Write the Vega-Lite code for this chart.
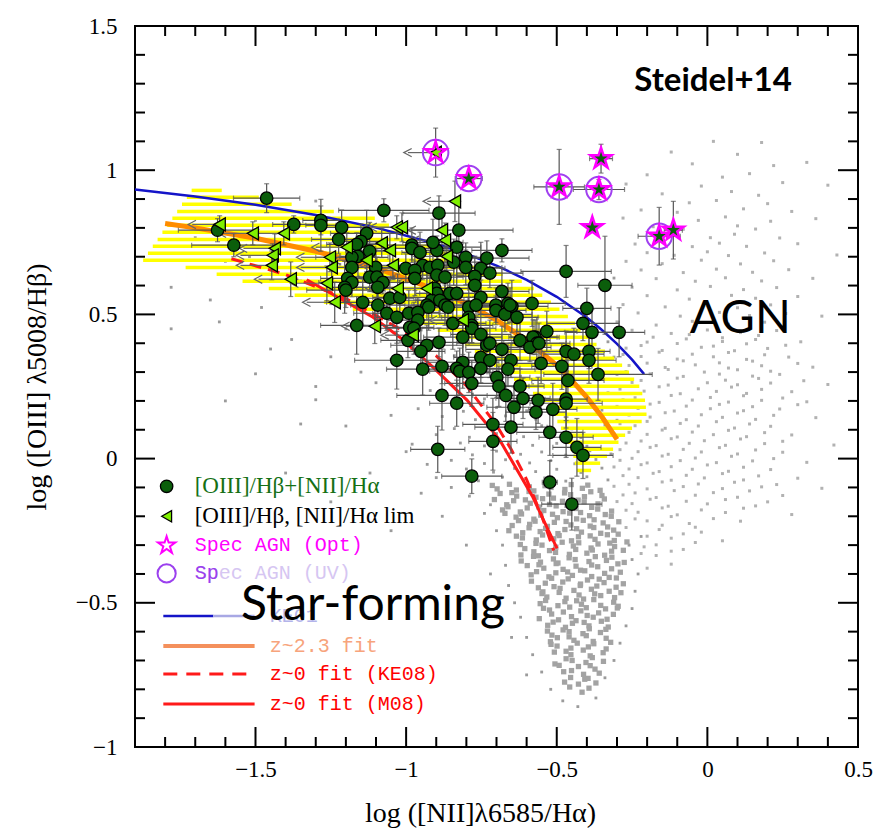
{
"$schema": "https://vega.github.io/schema/vega-lite/v6.json",
"width": 723, "height": 721,
"autosize": {"type": "none"},
"padding": {"left": 135, "top": 26, "right": 21, "bottom": 86},
"background": "#ffffff",
"config": {"view": {"stroke": "#000000", "strokeWidth": 2}},
"datasets": {
"core": [
{"x":-0.714,"y":-0.093},{"x":-0.698,"y":-0.105},{"x":-0.657,"y":-0.089},{"x":-0.634,"y":-0.109},{"x":-0.591,"y":-0.098},{"x":-0.576,"y":-0.112},{"x":-0.539,"y":-0.094},{"x":-0.519,"y":-0.1},{"x":-0.473,"y":-0.107},{"x":-0.452,"y":-0.09},{"x":-0.415,"y":-0.103},{"x":-0.397,"y":-0.092},{"x":-0.356,"y":-0.11},
{"x":-0.688,"y":-0.121},{"x":-0.649,"y":-0.118},{"x":-0.633,"y":-0.13},{"x":-0.592,"y":-0.114},{"x":-0.569,"y":-0.134},{"x":-0.526,"y":-0.123},{"x":-0.511,"y":-0.137},{"x":-0.474,"y":-0.119},{"x":-0.454,"y":-0.125},{"x":-0.408,"y":-0.132},{"x":-0.387,"y":-0.115},{"x":-0.35,"y":-0.128},
{"x":-0.707,"y":-0.142},{"x":-0.666,"y":-0.16},{"x":-0.643,"y":-0.146},{"x":-0.604,"y":-0.143},{"x":-0.588,"y":-0.155},{"x":-0.547,"y":-0.139},{"x":-0.524,"y":-0.159},{"x":-0.481,"y":-0.148},{"x":-0.466,"y":-0.162},{"x":-0.429,"y":-0.144},{"x":-0.409,"y":-0.15},{"x":-0.363,"y":-0.157},{"x":-0.342,"y":-0.14},
{"x":-0.68,"y":-0.178},{"x":-0.662,"y":-0.167},{"x":-0.621,"y":-0.185},{"x":-0.598,"y":-0.171},{"x":-0.559,"y":-0.168},{"x":-0.543,"y":-0.18},{"x":-0.502,"y":-0.164},{"x":-0.479,"y":-0.184},{"x":-0.436,"y":-0.173},{"x":-0.421,"y":-0.187},{"x":-0.384,"y":-0.169},{"x":-0.364,"y":-0.175},{"x":-0.318,"y":-0.182},
{"x":-0.672,"y":-0.19},{"x":-0.635,"y":-0.203},{"x":-0.617,"y":-0.192},{"x":-0.576,"y":-0.21},{"x":-0.553,"y":-0.196},{"x":-0.514,"y":-0.193},{"x":-0.498,"y":-0.205},{"x":-0.457,"y":-0.189},{"x":-0.434,"y":-0.209},{"x":-0.391,"y":-0.198},{"x":-0.376,"y":-0.212},{"x":-0.339,"y":-0.194},{"x":-0.319,"y":-0.2},
{"x":-0.648,"y":-0.232},{"x":-0.627,"y":-0.215},{"x":-0.59,"y":-0.228},{"x":-0.572,"y":-0.217},{"x":-0.531,"y":-0.235},{"x":-0.508,"y":-0.221},{"x":-0.469,"y":-0.218},{"x":-0.453,"y":-0.23},{"x":-0.412,"y":-0.214},{"x":-0.389,"y":-0.234},{"x":-0.346,"y":-0.223},{"x":-0.331,"y":-0.237},{"x":-0.294,"y":-0.219},
{"x":-0.659,"y":-0.25},{"x":-0.613,"y":-0.257},{"x":-0.592,"y":-0.24},{"x":-0.555,"y":-0.253},{"x":-0.537,"y":-0.242},{"x":-0.496,"y":-0.26},{"x":-0.473,"y":-0.246},{"x":-0.434,"y":-0.243},{"x":-0.418,"y":-0.255},{"x":-0.377,"y":-0.239},{"x":-0.354,"y":-0.259},{"x":-0.311,"y":-0.248},{"x":-0.296,"y":-0.262},
{"x":-0.634,"y":-0.269},{"x":-0.614,"y":-0.275},{"x":-0.568,"y":-0.282},{"x":-0.547,"y":-0.265},{"x":-0.51,"y":-0.278},{"x":-0.492,"y":-0.267},{"x":-0.451,"y":-0.285},{"x":-0.428,"y":-0.271},{"x":-0.389,"y":-0.268},{"x":-0.373,"y":-0.28},{"x":-0.332,"y":-0.264},{"x":-0.309,"y":-0.284},
{"x":-0.621,"y":-0.298},{"x":-0.606,"y":-0.312},{"x":-0.569,"y":-0.294},{"x":-0.549,"y":-0.3},{"x":-0.503,"y":-0.307},{"x":-0.482,"y":-0.29},{"x":-0.445,"y":-0.303},{"x":-0.427,"y":-0.292},{"x":-0.386,"y":-0.31},{"x":-0.363,"y":-0.296},{"x":-0.324,"y":-0.293},{"x":-0.308,"y":-0.305},{"x":-0.267,"y":-0.289},
{"x":-0.619,"y":-0.334},{"x":-0.576,"y":-0.323},{"x":-0.561,"y":-0.337},{"x":-0.524,"y":-0.319},{"x":-0.504,"y":-0.325},{"x":-0.458,"y":-0.332},{"x":-0.437,"y":-0.315},{"x":-0.4,"y":-0.328},{"x":-0.382,"y":-0.317},{"x":-0.341,"y":-0.335},{"x":-0.318,"y":-0.321},{"x":-0.279,"y":-0.318},
{"x":-0.618,"y":-0.355},{"x":-0.577,"y":-0.339},{"x":-0.554,"y":-0.359},{"x":-0.511,"y":-0.348},{"x":-0.496,"y":-0.362},{"x":-0.459,"y":-0.344},{"x":-0.439,"y":-0.35},{"x":-0.393,"y":-0.357},{"x":-0.372,"y":-0.34},{"x":-0.335,"y":-0.353},{"x":-0.317,"y":-0.342},{"x":-0.276,"y":-0.36},
{"x":-0.598,"y":-0.371},{"x":-0.559,"y":-0.368},{"x":-0.543,"y":-0.38},{"x":-0.502,"y":-0.364},{"x":-0.479,"y":-0.384},{"x":-0.436,"y":-0.373},{"x":-0.421,"y":-0.387},{"x":-0.384,"y":-0.369},{"x":-0.364,"y":-0.375},{"x":-0.318,"y":-0.382},{"x":-0.297,"y":-0.365},
{"x":-0.585,"y":-0.403},{"x":-0.567,"y":-0.392},{"x":-0.526,"y":-0.41},{"x":-0.503,"y":-0.396},{"x":-0.464,"y":-0.393},{"x":-0.448,"y":-0.405},{"x":-0.407,"y":-0.389},{"x":-0.384,"y":-0.409},{"x":-0.341,"y":-0.398},{"x":-0.326,"y":-0.412},{"x":-0.289,"y":-0.394},
{"x":-0.584,"y":-0.425},{"x":-0.538,"y":-0.432},{"x":-0.517,"y":-0.415},{"x":-0.48,"y":-0.428},{"x":-0.462,"y":-0.417},{"x":-0.421,"y":-0.435},{"x":-0.398,"y":-0.421},{"x":-0.359,"y":-0.418},{"x":-0.343,"y":-0.43},{"x":-0.302,"y":-0.414},{"x":-0.279,"y":-0.434},
{"x":-0.561,"y":-0.448},{"x":-0.546,"y":-0.462},{"x":-0.509,"y":-0.444},{"x":-0.489,"y":-0.45},{"x":-0.443,"y":-0.457},{"x":-0.422,"y":-0.44},{"x":-0.385,"y":-0.453},{"x":-0.367,"y":-0.442},{"x":-0.326,"y":-0.46},{"x":-0.303,"y":-0.446},
{"x":-0.549,"y":-0.468},{"x":-0.533,"y":-0.48},{"x":-0.492,"y":-0.464},{"x":-0.469,"y":-0.484},{"x":-0.426,"y":-0.473},{"x":-0.411,"y":-0.487},{"x":-0.374,"y":-0.469},{"x":-0.354,"y":-0.475},{"x":-0.308,"y":-0.482},{"x":-0.287,"y":-0.465},
{"x":-0.555,"y":-0.503},{"x":-0.537,"y":-0.492},{"x":-0.496,"y":-0.51},{"x":-0.473,"y":-0.496},{"x":-0.434,"y":-0.493},{"x":-0.418,"y":-0.505},{"x":-0.377,"y":-0.489},{"x":-0.354,"y":-0.509},{"x":-0.311,"y":-0.498},{"x":-0.296,"y":-0.512},
{"x":-0.544,"y":-0.519},{"x":-0.524,"y":-0.525},{"x":-0.478,"y":-0.532},{"x":-0.457,"y":-0.515},{"x":-0.42,"y":-0.528},{"x":-0.402,"y":-0.517},{"x":-0.361,"y":-0.535},{"x":-0.338,"y":-0.521},{"x":-0.299,"y":-0.518},
{"x":-0.558,"y":-0.555},{"x":-0.517,"y":-0.539},{"x":-0.494,"y":-0.559},{"x":-0.451,"y":-0.548},{"x":-0.436,"y":-0.562},{"x":-0.399,"y":-0.544},{"x":-0.379,"y":-0.55},{"x":-0.333,"y":-0.557},{"x":-0.312,"y":-0.54},
{"x":-0.53,"y":-0.578},{"x":-0.512,"y":-0.567},{"x":-0.471,"y":-0.585},{"x":-0.448,"y":-0.571},{"x":-0.409,"y":-0.568},{"x":-0.393,"y":-0.58},{"x":-0.352,"y":-0.564},{"x":-0.329,"y":-0.584},
{"x":-0.531,"y":-0.598},{"x":-0.516,"y":-0.612},{"x":-0.479,"y":-0.594},{"x":-0.459,"y":-0.6},{"x":-0.413,"y":-0.607},{"x":-0.392,"y":-0.59},{"x":-0.355,"y":-0.603},{"x":-0.337,"y":-0.592},
{"x":-0.521,"y":-0.635},{"x":-0.498,"y":-0.621},{"x":-0.459,"y":-0.618},{"x":-0.443,"y":-0.63},{"x":-0.402,"y":-0.614},{"x":-0.379,"y":-0.634},{"x":-0.336,"y":-0.623},{"x":-0.321,"y":-0.637},
{"x":-0.519,"y":-0.644},{"x":-0.499,"y":-0.65},{"x":-0.453,"y":-0.657},{"x":-0.432,"y":-0.64},{"x":-0.395,"y":-0.653},{"x":-0.377,"y":-0.642},{"x":-0.336,"y":-0.66},
{"x":-0.508,"y":-0.671},{"x":-0.469,"y":-0.668},{"x":-0.453,"y":-0.68},{"x":-0.412,"y":-0.664},{"x":-0.389,"y":-0.684},{"x":-0.346,"y":-0.673},
{"x":-0.506,"y":-0.712},{"x":-0.469,"y":-0.694},{"x":-0.449,"y":-0.7},{"x":-0.403,"y":-0.707},{"x":-0.382,"y":-0.69},{"x":-0.345,"y":-0.703},
{"x":-0.492,"y":-0.717},{"x":-0.451,"y":-0.735},{"x":-0.428,"y":-0.721},{"x":-0.389,"y":-0.718},{"x":-0.373,"y":-0.73},
{"x":-0.477,"y":-0.739},{"x":-0.454,"y":-0.759},{"x":-0.411,"y":-0.748},{"x":-0.396,"y":-0.762},{"x":-0.359,"y":-0.744},
{"x":-0.474,"y":-0.775},{"x":-0.428,"y":-0.782},{"x":-0.407,"y":-0.765},{"x":-0.37,"y":-0.778},
{"x":-0.457,"y":-0.792},{"x":-0.416,"y":-0.81},{"x":-0.393,"y":-0.796}
],
"sdss": [
{"x":-1.3,"y":0.893},{"x":-1.5,"y":0.826},{"x":-1.15,"y":0.804},{"x":-1.7,"y":0.766},{"x":-1.4,"y":0.745},{"x":-0.95,"y":0.733},{"x":-1.6,"y":0.684},{"x":-1.22,"y":0.673},{"x":-1.05,"y":0.655},{"x":-1.35,"y":0.616},{"x":-0.31,"y":0.626},{"x":-1.78,"y":0.594},{"x":-1.12,"y":0.583},{"x":-0.98,"y":0.565},{"x":-1.48,"y":0.524},{"x":-1.25,"y":0.537},{"x":-1.05,"y":0.505},{"x":-0.87,"y":0.493},{"x":-1.62,"y":0.474},{"x":-1.18,"y":0.463},{"x":-0.95,"y":0.446},{"x":-0.8,"y":0.434},{"x":-1.38,"y":0.413},{"x":-1.02,"y":0.404},{"x":-0.88,"y":0.418},{"x":-0.33,"y":0.405},{"x":-0.92,"y":0.384},{"x":-0.76,"y":0.373},{"x":-1.25,"y":0.353},{"x":-1.05,"y":0.344},{"x":-0.84,"y":0.357},{"x":-0.71,"y":0.346},{"x":-0.31,"y":0.352},{"x":-0.95,"y":0.324},{"x":-0.79,"y":0.313},{"x":-0.66,"y":0.327},{"x":-1.5,"y":0.294},{"x":-0.88,"y":0.283},{"x":-0.73,"y":0.297},{"x":-0.62,"y":0.286},{"x":-0.3,"y":0.292},{"x":-1.1,"y":0.263},{"x":-0.83,"y":0.254},{"x":-0.7,"y":0.268},{"x":-0.58,"y":0.257},{"x":-0.92,"y":0.236},{"x":-0.78,"y":0.224},{"x":-0.66,"y":0.233},{"x":-0.55,"y":0.222},{"x":-0.33,"y":0.228},{"x":-1.3,"y":0.204},{"x":-0.85,"y":0.196},{"x":-0.74,"y":0.207},{"x":-0.63,"y":0.193},{"x":-0.52,"y":0.203},{"x":-0.96,"y":0.173},{"x":-0.81,"y":0.164},{"x":-0.7,"y":0.177},{"x":-0.6,"y":0.166},{"x":-0.49,"y":0.175},{"x":-0.35,"y":0.168},{"x":-0.88,"y":0.146},{"x":-0.77,"y":0.135},{"x":-0.67,"y":0.148},{"x":-0.57,"y":0.137},{"x":-0.47,"y":0.144},{"x":-0.3,"y":0.133},{"x":-1.2,"y":0.113},{"x":-0.84,"y":0.104},{"x":-0.73,"y":0.117},{"x":-0.64,"y":0.106},{"x":-0.55,"y":0.114},{"x":-0.45,"y":0.103},{"x":-0.34,"y":0.116},{"x":-0.9,"y":0.083},{"x":-0.79,"y":0.074},{"x":-0.7,"y":0.087},{"x":-0.61,"y":0.076},{"x":-0.52,"y":0.084},{"x":-0.42,"y":0.073},{"x":-0.31,"y":0.086},{"x":-0.82,"y":0.054},{"x":-0.74,"y":0.044},{"x":-0.66,"y":0.057},{"x":-0.58,"y":0.046},{"x":-0.5,"y":0.053},{"x":-0.4,"y":0.043},{"x":-0.36,"y":0.056},{"x":-1.0,"y":0.024},{"x":-0.78,"y":0.013},{"x":-0.7,"y":0.026},{"x":-0.62,"y":0.015},{"x":-0.55,"y":0.023},{"x":-0.47,"y":0.012},{"x":-0.39,"y":0.027},{"x":-0.32,"y":0.016},{"x":-0.85,"y":-0.006},{"x":-0.74,"y":-0.017},{"x":-0.67,"y":-0.004},{"x":-0.59,"y":-0.015},{"x":-0.52,"y":-0.007},{"x":-0.44,"y":-0.018},{"x":-0.37,"y":-0.003},{"x":-0.8,"y":-0.036},{"x":-0.71,"y":-0.047},{"x":-0.64,"y":-0.034},{"x":-0.57,"y":-0.045},{"x":-0.5,"y":-0.037},{"x":-0.42,"y":-0.048},{"x":-0.35,"y":-0.033},{"x":-0.9,"y":-0.066},{"x":-0.76,"y":-0.077},{"x":-0.68,"y":-0.064},{"x":-0.61,"y":-0.075},{"x":-0.54,"y":-0.067},{"x":-0.47,"y":-0.078},{"x":-0.4,"y":-0.063},{"x":-0.33,"y":-0.074},
{"x":-0.79,"y":-0.13},{"x":-0.74,"y":-0.19},{"x":-0.72,"y":-0.16},{"x":-0.7,"y":-0.25},{"x":-0.68,"y":-0.3},{"x":-0.67,"y":-0.37},{"x":-0.66,"y":-0.44},{"x":-0.64,"y":-0.5},{"x":-0.62,"y":-0.55},{"x":-0.6,"y":-0.62},{"x":-0.58,"y":-0.68},{"x":-0.55,"y":-0.74},{"x":-0.52,"y":-0.8},{"x":-0.48,"y":-0.84},{"x":-0.43,"y":-0.86},{"x":-0.37,"y":-0.83},{"x":-0.34,"y":-0.76},{"x":-0.31,"y":-0.7},{"x":-0.29,"y":-0.64},{"x":-0.27,"y":-0.58},{"x":-0.25,"y":-0.52},{"x":-0.24,"y":-0.46},{"x":-0.23,"y":-0.4},{"x":-0.25,"y":-0.35},{"x":-0.26,"y":-0.3},{"x":-0.22,"y":-0.27},{"x":-0.95,"y":-0.12},{"x":-0.88,"y":-0.2},{"x":-0.8,"y":-0.3},{"x":-0.72,"y":-0.4},{"x":-0.7,"y":-0.52},{"x":-0.65,"y":-0.62},{"x":-0.6,"y":-0.75},
{"x":-1.65,"y":0.55},{"x":-1.45,"y":0.38},{"x":-1.3,"y":0.25},{"x":-1.2,"y":0.45},{"x":-1.05,"y":0.15},{"x":-0.98,"y":0.05},{"x":-1.35,"y":0.12},{"x":-1.12,"y":-0.05},{"x":-1.52,"y":0.7},{"x":-1.78,"y":0.45},{"x":-1.4,"y":-0.05},{"x":-1.6,"y":0.2},{"x":-1.25,"y":-0.15},{"x":-1.05,"y":-0.25},{"x":-0.93,"y":-0.02},{"x":-1.15,"y":0.3},{"x":-0.85,"y":-0.1}
],
"agn": [
{"x":0.02,"y":1.1},{"x":0.18,"y":1.096},{"x":-0.12,"y":1.063},{"x":0.1,"y":1.055},{"x":-0.05,"y":1.022},{"x":0.22,"y":1.016},{"x":0.33,"y":1.027},{"x":-0.2,"y":0.984},{"x":0.05,"y":0.976},{"x":0.14,"y":0.988},{"x":-0.27,"y":0.952},{"x":-0.02,"y":0.945},{"x":0.25,"y":0.957},{"x":0.4,"y":0.948},{"x":-0.15,"y":0.918},{"x":0.08,"y":0.926},{"x":0.17,"y":0.913},{"x":-0.06,"y":0.887},{"x":0.03,"y":0.895},{"x":0.2,"y":0.884},{"x":-0.22,"y":0.862},{"x":-0.1,"y":0.854},{"x":0.12,"y":0.866},{"x":0.28,"y":0.857},{"x":-0.28,"y":0.834},{"x":-0.03,"y":0.826},{"x":0.06,"y":0.838},{"x":0.21,"y":0.823},{"x":0.36,"y":0.832},{"x":-0.18,"y":0.804},{"x":-0.08,"y":0.795},{"x":0.1,"y":0.807},{"x":0.16,"y":0.796},{"x":-0.13,"y":0.774},{"x":0.01,"y":0.766},{"x":0.09,"y":0.778},{"x":0.24,"y":0.765},{"x":-0.24,"y":0.744},{"x":-0.05,"y":0.735},{"x":0.04,"y":0.747},{"x":0.13,"y":0.736},{"x":0.3,"y":0.745},{"x":-0.2,"y":0.714},{"x":-0.11,"y":0.705},{"x":0.0,"y":0.717},{"x":0.07,"y":0.704},{"x":0.19,"y":0.713},{"x":0.43,"y":0.706},{"x":-0.27,"y":0.684},{"x":-0.15,"y":0.676},{"x":-0.02,"y":0.688},{"x":0.11,"y":0.675},{"x":0.22,"y":0.686},{"x":-0.22,"y":0.654},{"x":-0.08,"y":0.645},{"x":0.03,"y":0.657},{"x":0.15,"y":0.646},{"x":0.27,"y":0.655},{"x":-0.17,"y":0.624},{"x":-0.04,"y":0.615},{"x":0.06,"y":0.627},{"x":0.18,"y":0.616},{"x":0.35,"y":0.625},
{"x":-0.25,"y":0.594},{"x":-0.1,"y":0.585},{"x":0.01,"y":0.597},{"x":0.12,"y":0.586},{"x":0.23,"y":0.593},
{"x":-0.2,"y":0.565},{"x":-0.06,"y":0.553},{"x":0.08,"y":0.566},{"x":0.16,"y":0.556},{"x":0.3,"y":0.562},
{"x":-0.28,"y":0.534},{"x":-0.14,"y":0.526},{"x":-0.01,"y":0.537},{"x":0.1,"y":0.523},{"x":0.21,"y":0.533},
{"x":-0.23,"y":0.505},{"x":-0.09,"y":0.494},{"x":0.04,"y":0.507},{"x":0.14,"y":0.496},{"x":0.26,"y":0.503},{"x":0.38,"y":0.494},
{"x":-0.3,"y":0.474},{"x":-0.17,"y":0.463},{"x":-0.05,"y":0.476},{"x":0.07,"y":0.466},{"x":0.19,"y":0.473},
{"x":-0.25,"y":0.445},{"x":-0.12,"y":0.434},{"x":0.0,"y":0.446},{"x":0.11,"y":0.437},{"x":0.23,"y":0.444},
{"x":-0.29,"y":0.428},{"x":-0.18,"y":0.421},{"x":-0.06,"y":0.43},{"x":0.05,"y":0.419},{"x":0.17,"y":0.427},
{"x":-0.2,"y":0.404},{"x":-0.07,"y":0.415},{"x":0.05,"y":0.406},{"x":0.16,"y":0.413},{"x":0.31,"y":0.405},
{"x":-0.22,"y":0.392},{"x":-0.1,"y":0.399},{"x":0.02,"y":0.39},{"x":0.13,"y":0.398},{"x":0.26,"y":0.393},
{"x":-0.27,"y":0.383},{"x":-0.15,"y":0.375},{"x":-0.02,"y":0.386},{"x":0.09,"y":0.374},{"x":0.2,"y":0.382},
{"x":-0.28,"y":0.361},{"x":-0.16,"y":0.369},{"x":-0.05,"y":0.362},{"x":0.07,"y":0.368},{"x":0.19,"y":0.36},
{"x":-0.22,"y":0.354},{"x":-0.1,"y":0.345},{"x":0.02,"y":0.353},{"x":0.13,"y":0.344},{"x":0.27,"y":0.352},
{"x":-0.2,"y":0.331},{"x":-0.08,"y":0.339},{"x":0.04,"y":0.332},{"x":0.15,"y":0.338},{"x":0.3,"y":0.33},
{"x":-0.26,"y":0.323},{"x":-0.14,"y":0.316},{"x":-0.04,"y":0.325},{"x":0.07,"y":0.314},{"x":0.18,"y":0.322},{"x":0.35,"y":0.317},
{"x":-0.27,"y":0.302},{"x":-0.13,"y":0.309},{"x":-0.01,"y":0.3},{"x":0.1,"y":0.308},{"x":0.21,"y":0.303},
{"x":-0.19,"y":0.294},{"x":-0.08,"y":0.285},{"x":0.04,"y":0.293},{"x":0.15,"y":0.286},{"x":0.24,"y":0.292},
{"x":-0.22,"y":0.271},{"x":-0.1,"y":0.279},{"x":0.06,"y":0.272},{"x":0.17,"y":0.278},{"x":0.32,"y":0.27},
{"x":-0.25,"y":0.264},{"x":-0.13,"y":0.255},{"x":0.0,"y":0.263},{"x":0.1,"y":0.256},{"x":0.21,"y":0.262},{"x":0.4,"y":0.257},
{"x":-0.29,"y":0.241},{"x":-0.16,"y":0.249},{"x":-0.03,"y":0.242},{"x":0.08,"y":0.248},{"x":0.18,"y":0.24},
{"x":-0.21,"y":0.234},{"x":-0.09,"y":0.225},{"x":0.03,"y":0.233},{"x":0.13,"y":0.226},{"x":0.28,"y":0.232},
{"x":-0.24,"y":0.211},{"x":-0.12,"y":0.219},{"x":0.01,"y":0.212},{"x":0.12,"y":0.218},{"x":0.25,"y":0.21},
{"x":-0.28,"y":0.204},{"x":-0.16,"y":0.195},{"x":-0.05,"y":0.203},{"x":0.07,"y":0.196},{"x":0.18,"y":0.202},{"x":0.33,"y":0.197},
{"x":-0.3,"y":0.181},{"x":-0.19,"y":0.189},{"x":-0.07,"y":0.182},{"x":0.04,"y":0.188},{"x":0.15,"y":0.18},{"x":0.3,"y":0.187},
{"x":-0.23,"y":0.174},{"x":-0.11,"y":0.165},{"x":0.01,"y":0.173},{"x":0.12,"y":0.166},{"x":0.24,"y":0.172},
{"x":-0.26,"y":0.151},{"x":-0.14,"y":0.159},{"x":-0.02,"y":0.152},{"x":0.1,"y":0.158},{"x":0.22,"y":0.15},
{"x":-0.19,"y":0.144},{"x":-0.07,"y":0.135},{"x":0.05,"y":0.143},{"x":0.16,"y":0.136},{"x":0.36,"y":0.142},
{"x":-0.29,"y":0.121},{"x":-0.2,"y":0.129},{"x":-0.09,"y":0.122},{"x":0.03,"y":0.128},{"x":0.14,"y":0.12},
{"x":-0.24,"y":0.114},{"x":-0.14,"y":0.105},{"x":-0.03,"y":0.113},{"x":0.09,"y":0.106},{"x":0.21,"y":0.112},
{"x":-0.26,"y":0.091},{"x":-0.15,"y":0.099},{"x":-0.05,"y":0.092},{"x":0.07,"y":0.098},{"x":0.19,"y":0.09},
{"x":-0.2,"y":0.084},{"x":-0.1,"y":0.075},{"x":0.02,"y":0.083},{"x":0.13,"y":0.076},{"x":0.28,"y":0.082},
{"x":-0.22,"y":0.061},{"x":-0.12,"y":0.069},{"x":-0.01,"y":0.062},{"x":0.11,"y":0.068},{"x":0.25,"y":0.06},
{"x":-0.27,"y":0.054},{"x":-0.17,"y":0.045},{"x":-0.06,"y":0.053},{"x":0.06,"y":0.046},{"x":0.19,"y":0.052},{"x":0.42,"y":0.047},
{"x":-0.29,"y":0.031},{"x":-0.19,"y":0.039},{"x":-0.08,"y":0.032},{"x":0.04,"y":0.038},{"x":0.16,"y":0.03},
{"x":-0.23,"y":0.024},{"x":-0.13,"y":0.015},{"x":-0.02,"y":0.023},{"x":0.1,"y":0.016},{"x":0.25,"y":0.022},
{"x":-0.25,"y":0.001},{"x":-0.15,"y":0.009},{"x":-0.04,"y":0.002},{"x":0.08,"y":0.008},{"x":0.22,"y":0.0},
{"x":-0.29,"y":-0.006},{"x":-0.2,"y":-0.015},{"x":-0.09,"y":-0.007},{"x":0.03,"y":-0.014},{"x":0.15,"y":-0.008},{"x":0.33,"y":-0.013},
{"x":-0.31,"y":-0.029},{"x":-0.22,"y":-0.021},{"x":-0.12,"y":-0.028},{"x":0.0,"y":-0.022},{"x":0.12,"y":-0.03},
{"x":-0.26,"y":-0.036},{"x":-0.16,"y":-0.045},{"x":-0.05,"y":-0.037},{"x":0.07,"y":-0.044},{"x":0.21,"y":-0.038},
{"x":-0.28,"y":-0.059},{"x":-0.18,"y":-0.051},{"x":-0.07,"y":-0.058},{"x":0.05,"y":-0.052},{"x":0.17,"y":-0.06},
{"x":-0.23,"y":-0.066},{"x":-0.12,"y":-0.075},{"x":-0.01,"y":-0.067},{"x":0.12,"y":-0.074},{"x":0.3,"y":-0.068},
{"x":-0.26,"y":-0.089},{"x":-0.15,"y":-0.081},{"x":-0.03,"y":-0.088},{"x":0.09,"y":-0.082},{"x":0.23,"y":-0.09},
{"x":-0.31,"y":-0.096},{"x":-0.2,"y":-0.105},{"x":-0.08,"y":-0.097},{"x":0.05,"y":-0.104},{"x":0.18,"y":-0.098},{"x":0.38,"y":-0.103},
{"x":-0.24,"y":-0.119},{"x":-0.11,"y":-0.111},{"x":0.02,"y":-0.118},{"x":0.14,"y":-0.112},
{"x":-0.28,"y":-0.126},{"x":-0.17,"y":-0.135},{"x":-0.04,"y":-0.127},{"x":0.1,"y":-0.134},{"x":0.25,"y":-0.128},
{"x":-0.3,"y":-0.149},{"x":-0.19,"y":-0.141},{"x":-0.07,"y":-0.148},{"x":0.06,"y":-0.142},{"x":0.2,"y":-0.15},
{"x":-0.25,"y":-0.156},{"x":-0.13,"y":-0.165},{"x":0.0,"y":-0.157},{"x":0.16,"y":-0.164},
{"x":-0.27,"y":-0.179},{"x":-0.15,"y":-0.171},{"x":-0.02,"y":-0.178},{"x":0.12,"y":-0.172},
{"x":-0.23,"y":-0.186},{"x":-0.1,"y":-0.195},{"x":0.06,"y":-0.187},{"x":0.28,"y":-0.194},
{"x":-0.24,"y":-0.209},{"x":-0.12,"y":-0.201},{"x":0.02,"y":-0.208},
{"x":-0.2,"y":-0.216},{"x":-0.06,"y":-0.225},{"x":0.11,"y":-0.217},
{"x":-0.27,"y":-0.239},{"x":-0.15,"y":-0.231},{"x":-0.04,"y":-0.238},
{"x":-0.16,"y":-0.246},{"x":-0.02,"y":-0.255},{"x":-0.2,"y":-0.269},{"x":-0.08,"y":-0.261},{"x":-0.12,"y":-0.276},{"x":0.05,"y":-0.285},{"x":-0.17,"y":-0.299},{"x":-0.04,"y":-0.291},{"x":-0.21,"y":-0.306},{"x":-0.08,"y":-0.315},{"x":-0.22,"y":-0.329},{"x":-0.12,"y":-0.321},{"x":-0.17,"y":-0.336},{"x":-0.12,"y":-0.366},{"x":-0.2,"y":-0.38}
],
"yellow": [
{"y":0.93,"x":-1.712,"x2":-1.612},{"y":0.906,"x":-1.728,"x2":-1.489},{"y":0.882,"x":-1.744,"x2":-1.38},{"y":0.857,"x":-1.76,"x2":-1.24},{"y":0.833,"x":-1.776,"x2":-1.104},{"y":0.809,"x":-1.793,"x2":-1.057},{"y":0.785,"x":-1.809,"x2":-1.008},{"y":0.76,"x":-1.825,"x2":-0.961},{"y":0.736,"x":-1.841,"x2":-0.905},{"y":0.712,"x":-1.857,"x2":-0.847},{"y":0.688,"x":-1.873,"x2":-0.788},{"y":0.663,"x":-1.732,"x2":-0.735},{"y":0.639,"x":-1.629,"x2":-0.679},{"y":0.615,"x":-1.543,"x2":-0.616},{"y":0.59,"x":-1.456,"x2":-0.576},{"y":0.566,"x":-1.37,"x2":-0.548},{"y":0.542,"x":-1.273,"x2":-0.519},{"y":0.518,"x":-1.177,"x2":-0.491},{"y":0.493,"x":-1.081,"x2":-0.463},{"y":0.469,"x":-0.988,"x2":-0.439},{"y":0.445,"x":-0.895,"x2":-0.421},{"y":0.421,"x":-0.838,"x2":-0.396},{"y":0.396,"x":-0.805,"x2":-0.368},{"y":0.372,"x":-0.772,"x2":-0.34},{"y":0.348,"x":-0.742,"x2":-0.309},{"y":0.324,"x":-0.709,"x2":-0.283},{"y":0.299,"x":-0.675,"x2":-0.26},{"y":0.275,"x":-0.642,"x2":-0.243},{"y":0.251,"x":-0.612,"x2":-0.226},{"y":0.226,"x":-0.579,"x2":-0.216},{"y":0.202,"x":-0.546,"x2":-0.207},{"y":0.178,"x":-0.529,"x2":-0.204},{"y":0.154,"x":-0.513,"x2":-0.202},{"y":0.129,"x":-0.498,"x2":-0.218},{"y":0.105,"x":-0.486,"x2":-0.25},{"y":0.081,"x":-0.474,"x2":-0.273},{"y":0.057,"x":-0.463,"x2":-0.295},{"y":0.032,"x":-0.454,"x2":-0.313},{"y":0.008,"x":-0.445,"x2":-0.333},{"y":-0.016,"x":-0.44,"x2":-0.356},{"y":-0.041,"x":-0.433,"x2":-0.386}
],
"ke01": [{"x":-1.9,"y":0.933},{"x":-1.7,"y":0.909},{"x":-1.5,"y":0.88},{"x":-1.3,"y":0.845},{"x":-1.1,"y":0.801},{"x":-0.9,"y":0.745},{"x":-0.8,"y":0.71},{"x":-0.7,"y":0.669},{"x":-0.6,"y":0.62},{"x":-0.5,"y":0.561},{"x":-0.4,"y":0.489},{"x":-0.35,"y":0.446},{"x":-0.3,"y":0.398},{"x":-0.25,"y":0.343},{"x":-0.21,"y":0.293}],
"z23": [{"x":-1.8,"y":0.815},{"x":-1.7,"y":0.8},{"x":-1.5,"y":0.764},{"x":-1.3,"y":0.719},{"x":-1.1,"y":0.661},{"x":-0.9,"y":0.585},{"x":-0.8,"y":0.537},{"x":-0.7,"y":0.48},{"x":-0.6,"y":0.41},{"x":-0.5,"y":0.323},{"x":-0.45,"y":0.271},{"x":-0.4,"y":0.212},{"x":-0.35,"y":0.145},{"x":-0.3,"y":0.067}],
"ke08": [{"x":-1.58,"y":0.693},{"x":-1.4,"y":0.638},{"x":-1.2,"y":0.555},{"x":-1.0,"y":0.437},{"x":-0.9,"y":0.356},{"x":-0.8,"y":0.253},{"x":-0.7,"y":0.116},{"x":-0.65,"y":0.03},{"x":-0.6,"y":-0.073},{"x":-0.55,"y":-0.198},{"x":-0.51,"y":-0.319}],
"m08": [{"x":-1.33,"y":0.62},{"x":-1.309,"y":0.608},{"x":-1.11,"y":0.49},{"x":-1.021,"y":0.421},{"x":-0.911,"y":0.317},{"x":-0.798,"y":0.203},{"x":-0.689,"y":0.064},{"x":-0.579,"y":-0.134},{"x":-0.533,"y":-0.238},{"x":-0.499,"y":-0.311}],
"circ": [
{"x":-1.463,"y":0.903,"ex":0.11,"ey":0.05},{"x":-1.626,"y":0.792,"ex":0.13,"ey":0.04},{"x":-1.572,"y":0.74,"ex":0.14,"ey":0.04},{"x":-1.373,"y":0.812,"ex":0.07,"ey":0.03},{"x":-1.283,"y":0.826,"ex":0.06,"ey":0.05},{"x":-1.283,"y":0.809,"ex":0.05,"ey":0.09},{"x":-1.214,"y":0.802,"ex":0.08,"ey":0.06},{"x":-1.224,"y":0.76,"ex":0.09,"ey":0.05},{"x":-1.131,"y":0.781,"ex":0.12,"ey":0.08},{"x":-1.074,"y":0.861,"ex":0.15,"ey":0.04},
{"x":-1.15,"y":0.753,"ex":0.07,"ey":0.06},{"x":-1.164,"y":0.743,"ex":0.1,"ey":0.04},{"x":-1.16,"y":0.701,"ex":0.06,"ey":0.07},{"x":-1.18,"y":0.698,"ex":0.12,"ey":0.05},{"x":-1.121,"y":0.719,"ex":0.08,"ey":0.1},{"x":-1.101,"y":0.663,"ex":0.1,"ey":0.06},{"x":-1.18,"y":0.663,"ex":0.07,"ey":0.04},{"x":-1.194,"y":0.625,"ex":0.09,"ey":0.08},{"x":-1.18,"y":0.611,"ex":0.11,"ey":0.05},{"x":-1.204,"y":0.594,"ex":0.06,"ey":0.09},
{"x":-1.2,"y":0.584,"ex":0.13,"ey":0.06},{"x":-1.121,"y":0.629,"ex":0.08,"ey":0.05},{"x":-1.097,"y":0.629,"ex":0.06,"ey":0.07},{"x":-1.077,"y":0.611,"ex":0.1,"ey":0.04},{"x":-1.094,"y":0.594,"ex":0.07,"ey":0.06},{"x":-1.144,"y":0.542,"ex":0.12,"ey":0.08},{"x":-1.094,"y":0.532,"ex":0.09,"ey":0.05},{"x":-1.054,"y":0.556,"ex":0.08,"ey":0.07},{"x":-1.064,"y":0.504,"ex":0.11,"ey":0.06},{"x":-1.031,"y":0.49,"ex":0.07,"ey":0.09},
{"x":-1.164,"y":0.462,"ex":0.12,"ey":0.1},{"x":-0.891,"y":0.851,"ex":0.12,"ey":0.06},{"x":-0.825,"y":0.792,"ex":0.18,"ey":0.1},{"x":-0.832,"y":0.733,"ex":0.08,"ey":0.07},{"x":-0.682,"y":0.722,"ex":0.1,"ey":0.04},{"x":-0.732,"y":0.695,"ex":0.14,"ey":0.06},{"x":-0.802,"y":0.698,"ex":0.07,"ey":0.05},{"x":-0.842,"y":0.681,"ex":0.1,"ey":0.08},{"x":-0.802,"y":0.663,"ex":0.12,"ey":0.06},{"x":-0.752,"y":0.66,"ex":0.08,"ey":0.09},
{"x":-0.722,"y":0.643,"ex":0.11,"ey":0.05},{"x":-0.772,"y":0.632,"ex":0.06,"ey":0.07},{"x":-0.772,"y":0.601,"ex":0.09,"ey":0.06},{"x":-0.898,"y":0.722,"ex":0.07,"ey":0.05},{"x":-0.911,"y":0.75,"ex":0.1,"ey":0.08},{"x":-0.981,"y":0.74,"ex":0.09,"ey":0.06},{"x":-0.981,"y":0.729,"ex":0.12,"ey":0.04},{"x":-0.954,"y":0.715,"ex":0.06,"ey":0.07},{"x":-0.945,"y":0.67,"ex":0.11,"ey":0.05},{"x":-0.921,"y":0.663,"ex":0.08,"ey":0.06},
{"x":-0.895,"y":0.67,"ex":0.07,"ey":0.09},{"x":-1.001,"y":0.66,"ex":0.1,"ey":0.05},{"x":-0.971,"y":0.653,"ex":0.13,"ey":0.07},{"x":-0.971,"y":0.625,"ex":0.08,"ey":0.06},{"x":-0.898,"y":0.636,"ex":0.09,"ey":0.04},{"x":-0.871,"y":0.629,"ex":0.06,"ey":0.08},{"x":-0.905,"y":0.59,"ex":0.11,"ey":0.06},{"x":-0.898,"y":0.573,"ex":0.07,"ey":0.05},{"x":-0.855,"y":0.573,"ex":0.1,"ey":0.07},{"x":-0.832,"y":0.573,"ex":0.08,"ey":0.09},
{"x":-0.915,"y":0.549,"ex":0.12,"ey":0.06},{"x":-0.931,"y":0.532,"ex":0.09,"ey":0.05},{"x":-0.925,"y":0.525,"ex":0.06,"ey":0.08},{"x":-0.888,"y":0.549,"ex":0.08,"ey":0.06},{"x":-0.871,"y":0.532,"ex":0.11,"ey":0.07},{"x":-0.861,"y":0.525,"ex":0.07,"ey":0.05},{"x":-0.752,"y":0.559,"ex":0.1,"ey":0.06},{"x":-0.792,"y":0.525,"ex":0.08,"ey":0.08},{"x":-0.768,"y":0.532,"ex":0.12,"ey":0.05},{"x":-0.792,"y":0.49,"ex":0.09,"ey":0.07},
{"x":-0.782,"y":0.462,"ex":0.07,"ey":0.06},{"x":-0.845,"y":0.469,"ex":0.11,"ey":0.09},{"x":-0.782,"y":0.452,"ex":0.08,"ey":0.05},{"x":-0.752,"y":0.431,"ex":0.1,"ey":0.07},{"x":-0.812,"y":0.421,"ex":0.13,"ey":0.06},{"x":-0.682,"y":0.58,"ex":0.09,"ey":0.08},{"x":-0.702,"y":0.532,"ex":0.07,"ey":0.06},{"x":-0.702,"y":0.514,"ex":0.1,"ey":0.05},{"x":-0.662,"y":0.538,"ex":0.08,"ey":0.07},{"x":-0.649,"y":0.528,"ex":0.12,"ey":0.09},
{"x":-0.672,"y":0.5,"ex":0.09,"ey":0.06},{"x":-0.632,"y":0.49,"ex":0.07,"ey":0.05},{"x":-0.582,"y":0.538,"ex":0.11,"ey":0.08},{"x":-0.533,"y":0.441,"ex":0.1,"ey":0.07},{"x":-0.572,"y":0.421,"ex":0.08,"ey":0.06},{"x":-1.021,"y":0.559,"ex":0.09,"ey":0.06},{"x":-0.991,"y":0.504,"ex":0.12,"ey":0.08},{"x":-0.961,"y":0.507,"ex":0.07,"ey":0.05},{"x":-0.961,"y":0.48,"ex":0.1,"ey":0.07},{"x":-0.988,"y":0.455,"ex":0.08,"ey":0.06},
{"x":-0.974,"y":0.452,"ex":0.11,"ey":0.09},{"x":-0.994,"y":0.41,"ex":0.09,"ey":0.06},{"x":-0.931,"y":0.393,"ex":0.12,"ey":0.07},{"x":-0.951,"y":0.372,"ex":0.08,"ey":0.08},{"x":-0.891,"y":0.403,"ex":0.1,"ey":0.05},{"x":-0.732,"y":0.393,"ex":0.07,"ey":0.06},{"x":-0.722,"y":0.4,"ex":0.11,"ey":0.08},{"x":-0.752,"y":0.351,"ex":0.09,"ey":0.07},{"x":-0.722,"y":0.341,"ex":0.08,"ey":0.06},{"x":-0.812,"y":0.334,"ex":0.12,"ey":0.09},
{"x":-0.832,"y":0.313,"ex":0.07,"ey":0.06},{"x":-0.822,"y":0.303,"ex":0.1,"ey":0.08},{"x":-0.792,"y":0.299,"ex":0.08,"ey":0.07},{"x":-0.752,"y":0.313,"ex":0.13,"ey":0.05},{"x":-0.782,"y":0.261,"ex":0.09,"ey":0.08},{"x":-0.699,"y":0.282,"ex":0.11,"ey":0.07},{"x":-0.881,"y":0.32,"ex":0.08,"ey":0.06},{"x":-0.945,"y":0.31,"ex":0.12,"ey":0.09},{"x":-1.031,"y":0.341,"ex":0.14,"ey":0.1},{"x":-0.881,"y":0.219,"ex":0.15,"ey":0.12},
{"x":-0.832,"y":0.192,"ex":0.09,"ey":0.08},{"x":-0.712,"y":0.119,"ex":0.1,"ey":0.09},{"x":-0.712,"y":0.06,"ex":0.08,"ey":0.1},{"x":-0.895,"y":0.032,"ex":0.09,"ey":0.08},{"x":-0.4,"y":0.521,"ex":0.08,"ey":0.07},{"x":-0.413,"y":0.469,"ex":0.12,"ey":0.06},{"x":-0.383,"y":0.438,"ex":0.09,"ey":0.08},{"x":-0.293,"y":0.438,"ex":0.085,"ey":0.085},{"x":-0.622,"y":0.41,"ex":0.1,"ey":0.07},{"x":-0.579,"y":0.421,"ex":0.08,"ey":0.06},
{"x":-0.566,"y":0.4,"ex":0.11,"ey":0.09},{"x":-0.589,"y":0.386,"ex":0.07,"ey":0.05},{"x":-0.559,"y":0.4,"ex":0.09,"ey":0.07},{"x":-0.682,"y":0.379,"ex":0.12,"ey":0.08},{"x":-0.469,"y":0.372,"ex":0.08,"ey":0.07},{"x":-0.443,"y":0.362,"ex":0.1,"ey":0.09},{"x":-0.393,"y":0.372,"ex":0.07,"ey":0.06},{"x":-0.393,"y":0.341,"ex":0.09,"ey":0.08},{"x":-0.652,"y":0.341,"ex":0.11,"ey":0.06},{"x":-0.552,"y":0.33,"ex":0.08,"ey":0.07},
{"x":-0.483,"y":0.32,"ex":0.1,"ey":0.08},{"x":-0.662,"y":0.31,"ex":0.09,"ey":0.06},{"x":-0.363,"y":0.292,"ex":0.18,"ey":0.09},{"x":-0.463,"y":0.271,"ex":0.12,"ey":0.08},{"x":-0.692,"y":0.251,"ex":0.1,"ey":0.07},{"x":-0.622,"y":0.251,"ex":0.08,"ey":0.06},{"x":-0.669,"y":0.219,"ex":0.11,"ey":0.09},{"x":-0.612,"y":0.209,"ex":0.09,"ey":0.07},{"x":-0.562,"y":0.202,"ex":0.1,"ey":0.08},{"x":-0.469,"y":0.206,"ex":0.07,"ey":0.1},
{"x":-0.469,"y":0.192,"ex":0.12,"ey":0.06},{"x":-0.642,"y":0.178,"ex":0.09,"ey":0.07},{"x":-0.513,"y":0.171,"ex":0.08,"ey":0.09},{"x":-0.569,"y":0.161,"ex":0.1,"ey":0.06},{"x":-0.523,"y":0.091,"ex":0.11,"ey":0.08},{"x":-0.469,"y":0.074,"ex":0.09,"ey":0.07},{"x":-0.433,"y":0.039,"ex":0.08,"ey":0.1},{"x":-0.413,"y":0.011,"ex":0.1,"ey":0.08},{"x":-0.652,"y":0.109,"ex":0.12,"ey":0.09},{"x":-0.523,"y":-0.082,"ex":0.025,"ey":0.075},
{"x":-0.782,"y":-0.061,"ex":0.1,"ey":0.06},{"x":-0.45,"y":-0.158,"ex":0.1,"ey":0.09},{"x":-0.469,"y":0.649,"ex":0.15,"ey":0.09},{"x":-0.34,"y":0.601,"ex":0.09,"ey":0.17},{"x":-0.655,"y":0.532,"ex":0.09,"ey":0.06}
],
"tri": [
{"x":-1.619,"y":0.812,"ey":0.03,"xa":-1.71},{"x":-1.509,"y":0.781,"ey":0.04,"xa":-1.61},{"x":-1.406,"y":0.781,"ey":0.04,"xa":-1.5},{"x":-1.436,"y":0.729,"ey":0.05,"xa":-1.54},{"x":-1.443,"y":0.705,"ey":0.04,"xa":-1.55},{"x":-1.446,"y":0.67,"ey":0.05,"xa":-1.55},{"x":-1.383,"y":0.622,"ey":0.06,"xa":-1.49},{"x":-1.253,"y":0.698,"ey":0.05,"xa":-1.35},{"x":-1.247,"y":0.663,"ey":0.04,"xa":-1.35},{"x":-1.263,"y":0.608,"ey":0.06,"xa":-1.37},
{"x":-1.237,"y":0.542,"ey":0.07,"xa":-1.33},{"x":-1.197,"y":0.733,"ey":0.05,"xa":-1.3},{"x":-1.131,"y":0.688,"ey":0.04,"xa":-1.23},{"x":-1.081,"y":0.747,"ey":0.05,"xa":-1.18},{"x":-1.054,"y":0.722,"ey":0.06,"xa":-1.15},{"x":-1.044,"y":0.67,"ey":0.05,"xa":-1.14},{"x":-1.031,"y":0.802,"ey":0.04,"xa":-1.13},{"x":-1.104,"y":0.459,"ey":0.06,"xa":-1.2},{"x":-1.014,"y":0.802,"ey":0.05,"xa":-1.11},{"x":-0.838,"y":0.892,"ey":0.07,"xa":-0.93},
{"x":-0.881,"y":0.792,"ey":0.05,"xa":-0.98},{"x":-0.871,"y":0.757,"ey":0.06,"xa":-0.97},{"x":-0.865,"y":0.701,"ey":0.05,"xa":-0.96},{"x":-1.028,"y":0.59,"ey":0.05,"xa":-1.12},{"x":-0.931,"y":0.59,"ey":0.06,"xa":-1.03},{"x":-0.978,"y":0.428,"ey":0.05,"xa":-1.07},{"x":-0.812,"y":0.48,"ey":0.06,"xa":-0.91},{"x":-0.902,"y":1.061,"ey":0.085,"xa":-0.994}
],
"agnobj": [
{"x":-0.792,"y":0.971,"ex":0.045,"ey":0,"uv":1},{"x":-0.492,"y":0.942,"ex":0.084,"ey":0.13,"uv":1},{"x":-0.353,"y":1.04,"ex":0.038,"ey":0.05,"uv":0},{"x":-0.36,"y":0.933,"ex":0.085,"ey":0.035,"uv":1},{"x":-0.382,"y":0.801,"ex":0,"ey":0,"uv":0},{"x":-0.16,"y":0.771,"ex":0.07,"ey":0.1,"uv":1},{"x":-0.113,"y":0.792,"ex":0.03,"ey":0.1,"uv":0}
]
},
"encoding": {
"x": {"field": "x", "type": "quantitative", "scale": {"domain": [-1.9, 0.5], "nice": false, "zero": false}, "axis": null},
"y": {"field": "y", "type": "quantitative", "scale": {"domain": [-1, 1.5], "nice": false, "zero": false}, "axis": null}
},
"layer": [
{"data": {"name": "sdss"}, "mark": {"type": "point", "shape": "square", "filled": true, "color": "#9b9b9b", "size": 8, "opacity": 1},
 "encoding": {
  "x": {"field": "x", "type": "quantitative", "scale": {"domain": [-1.9, 0.5], "nice": false, "zero": false},
   "axis": {"orient": "bottom", "values": [-1.5,-1,-0.5,0,0.5], "title": "log ([NII]λ6585/Hα)", "domain": false, "ticks": false,
    "labelExpr": "format(datum.value,'~g')", "labelFont": "Liberation Serif", "labelFontSize": 23, "labelColor": "#000000", "labelPadding": 11, "labelFlush": false, "labelOverlap": false, "grid": false,
    "titleFont": "Liberation Serif", "titleFontSize": 28, "titleFontWeight": "normal", "titleColor": "#000000", "titlePadding": 18, "titleX": 345}},
  "y": {"field": "y", "type": "quantitative", "scale": {"domain": [-1, 1.5], "nice": false, "zero": false},
   "axis": {"orient": "left", "values": [-1,-0.5,0,0.5,1,1.5], "title": "log ([OIII] λ5008/Hβ)", "domain": false, "ticks": false,
    "labelExpr": "format(datum.value,'~g')", "labelFont": "Liberation Serif", "labelFontSize": 23, "labelColor": "#000000", "labelPadding": 18, "labelFlush": false, "labelOverlap": false, "grid": false,
    "titleFont": "Liberation Serif", "titleFontSize": 28, "titleFontWeight": "normal", "titleColor": "#000000", "titlePadding": 24}}
 }},
{"data": {"name": "agn"}, "mark": {"type": "point", "shape": "square", "filled": true, "color": "#b2b2b2", "size": 9, "opacity": 1}},
{"data": {"name": "core"}, "mark": {"type": "point", "shape": "square", "filled": true, "color": "#a3a3a3", "size": 28, "opacity": 1}},
{"data": {"name": "yellow"}, "mark": {"type": "rule", "color": "#ffff00", "strokeWidth": 3.5}, "encoding": {"x2": {"field": "x2"}}},
{"data": {"name": "ke01"}, "mark": {"type": "line", "color": "#1414c8", "strokeWidth": 2.5}, "encoding": {}},
{"data": {"name": "z23"}, "mark": {"type": "line", "color": "#ff8c00", "strokeWidth": 5}, "encoding": {}},
{"data": {"name": "ke08"}, "mark": {"type": "line", "color": "#ff1a1a", "strokeWidth": 3, "strokeDash": [12, 7]}, "encoding": {}},
{"data": {"name": "m08"}, "mark": {"type": "line", "color": "#ff1a1a", "strokeWidth": 3}, "encoding": {}},
{"data": {"name": "circ"}, "mark": {"type": "errorbar", "ticks": true, "color": "#555555", "thickness": 1.2}, "encoding": {"xError": {"field": "ex"}}},
{"data": {"name": "circ"}, "mark": {"type": "errorbar", "ticks": true, "color": "#555555", "thickness": 1.2}, "encoding": {"yError": {"field": "ey"}}},
{"data": {"name": "tri"}, "mark": {"type": "errorbar", "ticks": true, "color": "#555555", "thickness": 1.2}, "encoding": {"yError": {"field": "ey"}}},
{"data": {"name": "tri"}, "mark": {"type": "rule", "color": "#666666", "strokeWidth": 1.2}, "encoding": {"x2": {"field": "xa"}}},
{"data": {"name": "tri"}, "mark": {"type": "point", "shape": "M0.9,-1L-1,0L0.9,1", "filled": false, "stroke": "#666666", "strokeWidth": 1.2, "size": 70, "opacity": 1},
 "encoding": {"x": {"field": "xa", "type": "quantitative", "scale": {"domain": [-1.9, 0.5], "nice": false, "zero": false}, "axis": null}}},
{"data": {"name": "agnobj"}, "transform": [{"filter": "datum.ex > 0"}], "mark": {"type": "errorbar", "ticks": true, "color": "#555555", "thickness": 1.2}, "encoding": {"xError": {"field": "ex"}}},
{"data": {"name": "agnobj"}, "transform": [{"filter": "datum.ey > 0"}], "mark": {"type": "errorbar", "ticks": true, "color": "#555555", "thickness": 1.2}, "encoding": {"yError": {"field": "ey"}}},
{"data": {"name": "circ"}, "mark": {"type": "point", "shape": "circle", "filled": true, "fill": "#0b5e0b", "stroke": "#000000", "strokeWidth": 1.3, "size": 155, "opacity": 1}},
{"data": {"name": "tri"}, "mark": {"type": "point", "shape": "triangle-left", "filled": true, "fill": "#80f000", "stroke": "#000000", "strokeWidth": 1.3, "size": 170, "opacity": 1}},
{"data": {"name": "agnobj"}, "transform": [{"filter": "datum.uv == 1"}], "mark": {"type": "point", "shape": "circle", "filled": false, "stroke": "#a040f0", "strokeWidth": 2, "size": 650, "opacity": 1}},
{"data": {"values": [{"x": -0.902, "y": 1.061}]}, "mark": {"type": "point", "shape": "circle", "filled": false, "stroke": "#a040f0", "strokeWidth": 2, "size": 650, "opacity": 1}},
{"data": {"name": "agnobj"}, "mark": {"type": "point", "shape": "M0,-1L0.2245,-0.309L0.951,-0.309L0.363,0.118L0.588,0.809L0,0.382L-0.588,0.809L-0.363,0.118L-0.951,-0.309L-0.2245,-0.309Z", "filled": true, "fill": "#0b5e0b", "stroke": "#ff00ff", "strokeWidth": 2.5, "size": 480, "opacity": 1}},
{"data": {"values": [{"x": -0.902, "y": 1.061}]}, "mark": {"type": "point", "shape": "M0,-1L0.2245,-0.309L0.951,-0.309L0.363,0.118L0.588,0.809L0,0.382L-0.588,0.809L-0.363,0.118L-0.951,-0.309L-0.2245,-0.309Z", "filled": false, "stroke": "#ff00ff", "strokeWidth": 2.5, "size": 480, "opacity": 1}},
{"data": {"values": [{"x": -1.795, "y": -0.096}]}, "mark": {"type": "point", "shape": "circle", "filled": true, "fill": "#0b5e0b", "stroke": "#000000", "strokeWidth": 1.3, "size": 155, "opacity": 1}},
{"data": {"values": [{"x": -1.795, "y": -0.2}]}, "mark": {"type": "point", "shape": "triangle-left", "filled": true, "fill": "#80f000", "stroke": "#000000", "strokeWidth": 1.3, "size": 130, "opacity": 1}},
{"data": {"values": [{"x": -1.795, "y": -0.301}]}, "mark": {"type": "point", "shape": "M0,-1L0.2245,-0.309L0.951,-0.309L0.363,0.118L0.588,0.809L0,0.382L-0.588,0.809L-0.363,0.118L-0.951,-0.309L-0.2245,-0.309Z", "filled": false, "stroke": "#ff00ff", "strokeWidth": 2, "size": 330, "opacity": 1}},
{"data": {"values": [{"x": -1.795, "y": -0.398}]}, "mark": {"type": "point", "shape": "circle", "filled": false, "stroke": "#9b40ee", "strokeWidth": 2, "size": 330, "opacity": 1}},
{"data": {"values": [{"x": -1.806, "x2": -1.64, "y": -0.546}]}, "mark": {"type": "rule", "color": "#1414c8", "strokeWidth": 2.5}, "encoding": {"x2": {"field": "x2"}}},
{"data": {"values": [{"x": -1.64, "x2": -1.503, "y": -0.546}]}, "mark": {"type": "rule", "color": "#a8a8e4", "strokeWidth": 2.5}, "encoding": {"x2": {"field": "x2"}}},
{"data": {"values": [{"x": -1.806, "x2": -1.503, "y": -0.65}]}, "mark": {"type": "rule", "color": "#f4905c", "strokeWidth": 4}, "encoding": {"x2": {"field": "x2"}}},
{"data": {"values": [{"x": -1.806, "x2": -1.503, "y": -0.747}]}, "mark": {"type": "rule", "color": "#ff1a1a", "strokeWidth": 3, "strokeDash": [14, 9]}, "encoding": {"x2": {"field": "x2"}}},
{"data": {"values": [{"x": -1.806, "x2": -1.503, "y": -0.851}]}, "mark": {"type": "rule", "color": "#ff1a1a", "strokeWidth": 3}, "encoding": {"x2": {"field": "x2"}}},
{"data": {"values": [{"x": -1.702, "y": -0.096, "t": "[OIII]/Hβ+[NII]/Hα"}]}, "mark": {"type": "text", "align": "left", "baseline": "middle", "font": "Liberation Serif", "fontSize": 23, "color": "#157015"}, "encoding": {"text": {"field": "t"}}},
{"data": {"values": [{"x": -1.702, "y": -0.2, "t": "[OIII]/Hβ, [NII]/Hα lim"}]}, "mark": {"type": "text", "align": "left", "baseline": "middle", "font": "Liberation Serif", "fontSize": 23, "color": "#000000"}, "encoding": {"text": {"field": "t"}}},
{"data": {"values": [{"x": -1.702, "y": -0.301, "t": "Spec AGN (Opt)"}]}, "mark": {"type": "text", "align": "left", "baseline": "middle", "font": "Liberation Mono", "fontSize": 20, "color": "#ff00ff"}, "encoding": {"text": {"field": "t"}}},
{"data": {"values": [{"x": -1.702, "y": -0.398, "t": "Spec AGN (UV)"}]}, "mark": {"type": "text", "align": "left", "baseline": "middle", "font": "Liberation Mono", "fontSize": 20, "color": "#d6c6f2"}, "encoding": {"text": {"field": "t"}}},
{"data": {"values": [{"x": -1.702, "y": -0.398, "t": "Sp"}]}, "mark": {"type": "text", "align": "left", "baseline": "middle", "font": "Liberation Mono", "fontSize": 20, "color": "#9b40ee"}, "encoding": {"text": {"field": "t"}}},
{"data": {"values": [{"x": -1.453, "y": -0.546, "t": "KE01"}]}, "mark": {"type": "text", "align": "left", "baseline": "middle", "font": "Liberation Mono", "fontSize": 20, "color": "#b4b4ea"}, "encoding": {"text": {"field": "t"}}},
{"data": {"values": [{"x": -1.453, "y": -0.65, "t": "z~2.3 fit"}]}, "mark": {"type": "text", "align": "left", "baseline": "middle", "font": "Liberation Mono", "fontSize": 20, "color": "#f7a47c"}, "encoding": {"text": {"field": "t"}}},
{"data": {"values": [{"x": -1.453, "y": -0.747, "t": "z~0 fit (KE08)"}]}, "mark": {"type": "text", "align": "left", "baseline": "middle", "font": "Liberation Mono", "fontSize": 20, "color": "#ff0000"}, "encoding": {"text": {"field": "t"}}},
{"data": {"values": [{"x": -1.453, "y": -0.851, "t": "z~0 fit (M08)"}]}, "mark": {"type": "text", "align": "left", "baseline": "middle", "font": "Liberation Mono", "fontSize": 20, "color": "#ff0000"}, "encoding": {"text": {"field": "t"}}},
{"data": {"values": [{"x": -1.11, "y": -0.561, "t": "Star-forming"}]}, "mark": {"type": "text", "align": "center", "baseline": "alphabetic", "font": "Lato", "fontSize": 48, "color": "#000000"}, "encoding": {"text": {"field": "t"}}},
{"data": {"values": [{"x": 0.019, "y": 1.274, "t": "Steidel+14"}]}, "mark": {"type": "text", "align": "center", "baseline": "alphabetic", "font": "Lato", "fontSize": 33, "fontWeight": "bold", "color": "#000000"}, "encoding": {"text": {"field": "t"}}},
{"data": {"values": [{"x": 0.109, "y": 0.434, "t": "AGN"}]}, "mark": {"type": "text", "align": "center", "baseline": "alphabetic", "font": "Lato", "fontSize": 47, "color": "#000000"}, "encoding": {"text": {"field": "t"}}},
{"data": {"values": [
{"x":-1.5,"y":-0.997,"y2":-0.9307},{"x":-1,"y":-0.997,"y2":-0.9307},{"x":-0.5,"y":-0.997,"y2":-0.9307},{"x":0,"y":-0.997,"y2":-0.9307},
{"x":-1.5,"y":1.497,"y2":1.4307},{"x":-1,"y":1.497,"y2":1.4307},{"x":-0.5,"y":1.497,"y2":1.4307},{"x":0,"y":1.497,"y2":1.4307},
{"x":-1.8,"y":-0.997,"y2":-0.9653},{"x":-1.7,"y":-0.997,"y2":-0.9653},{"x":-1.6,"y":-0.997,"y2":-0.9653},{"x":-1.4,"y":-0.997,"y2":-0.9653},{"x":-1.3,"y":-0.997,"y2":-0.9653},{"x":-1.2,"y":-0.997,"y2":-0.9653},{"x":-1.1,"y":-0.997,"y2":-0.9653},{"x":-0.9,"y":-0.997,"y2":-0.9653},{"x":-0.8,"y":-0.997,"y2":-0.9653},{"x":-0.7,"y":-0.997,"y2":-0.9653},{"x":-0.6,"y":-0.997,"y2":-0.9653},{"x":-0.4,"y":-0.997,"y2":-0.9653},{"x":-0.3,"y":-0.997,"y2":-0.9653},{"x":-0.2,"y":-0.997,"y2":-0.9653},{"x":-0.1,"y":-0.997,"y2":-0.9653},{"x":0.1,"y":-0.997,"y2":-0.9653},{"x":0.2,"y":-0.997,"y2":-0.9653},{"x":0.3,"y":-0.997,"y2":-0.9653},{"x":0.4,"y":-0.997,"y2":-0.9653},
{"x":-1.8,"y":1.497,"y2":1.4653},{"x":-1.7,"y":1.497,"y2":1.4653},{"x":-1.6,"y":1.497,"y2":1.4653},{"x":-1.4,"y":1.497,"y2":1.4653},{"x":-1.3,"y":1.497,"y2":1.4653},{"x":-1.2,"y":1.497,"y2":1.4653},{"x":-1.1,"y":1.497,"y2":1.4653},{"x":-0.9,"y":1.497,"y2":1.4653},{"x":-0.8,"y":1.497,"y2":1.4653},{"x":-0.7,"y":1.497,"y2":1.4653},{"x":-0.6,"y":1.497,"y2":1.4653},{"x":-0.4,"y":1.497,"y2":1.4653},{"x":-0.3,"y":1.497,"y2":1.4653},{"x":-0.2,"y":1.497,"y2":1.4653},{"x":-0.1,"y":1.497,"y2":1.4653},{"x":0.1,"y":1.497,"y2":1.4653},{"x":0.2,"y":1.497,"y2":1.4653},{"x":0.3,"y":1.497,"y2":1.4653},{"x":0.4,"y":1.497,"y2":1.4653}
]}, "mark": {"type": "rule", "color": "#000000", "strokeWidth": 2}, "encoding": {"y2": {"field": "y2"}}},
{"data": {"values": [
{"y":-0.5,"x":-1.897,"x2":-1.8336},{"y":0,"x":-1.897,"x2":-1.8336},{"y":0.5,"x":-1.897,"x2":-1.8336},{"y":1,"x":-1.897,"x2":-1.8336},
{"y":-0.5,"x":0.497,"x2":0.4336},{"y":0,"x":0.497,"x2":0.4336},{"y":0.5,"x":0.497,"x2":0.4336},{"y":1,"x":0.497,"x2":0.4336},
{"y":-0.9,"x":-1.897,"x2":-1.8668},{"y":-0.8,"x":-1.897,"x2":-1.8668},{"y":-0.7,"x":-1.897,"x2":-1.8668},{"y":-0.6,"x":-1.897,"x2":-1.8668},{"y":-0.4,"x":-1.897,"x2":-1.8668},{"y":-0.3,"x":-1.897,"x2":-1.8668},{"y":-0.2,"x":-1.897,"x2":-1.8668},{"y":-0.1,"x":-1.897,"x2":-1.8668},{"y":0.1,"x":-1.897,"x2":-1.8668},{"y":0.2,"x":-1.897,"x2":-1.8668},{"y":0.3,"x":-1.897,"x2":-1.8668},{"y":0.4,"x":-1.897,"x2":-1.8668},{"y":0.6,"x":-1.897,"x2":-1.8668},{"y":0.7,"x":-1.897,"x2":-1.8668},{"y":0.8,"x":-1.897,"x2":-1.8668},{"y":0.9,"x":-1.897,"x2":-1.8668},{"y":1.1,"x":-1.897,"x2":-1.8668},{"y":1.2,"x":-1.897,"x2":-1.8668},{"y":1.3,"x":-1.897,"x2":-1.8668},{"y":1.4,"x":-1.897,"x2":-1.8668},
{"y":-0.9,"x":0.497,"x2":0.4668},{"y":-0.8,"x":0.497,"x2":0.4668},{"y":-0.7,"x":0.497,"x2":0.4668},{"y":-0.6,"x":0.497,"x2":0.4668},{"y":-0.4,"x":0.497,"x2":0.4668},{"y":-0.3,"x":0.497,"x2":0.4668},{"y":-0.2,"x":0.497,"x2":0.4668},{"y":-0.1,"x":0.497,"x2":0.4668},{"y":0.1,"x":0.497,"x2":0.4668},{"y":0.2,"x":0.497,"x2":0.4668},{"y":0.3,"x":0.497,"x2":0.4668},{"y":0.4,"x":0.497,"x2":0.4668},{"y":0.6,"x":0.497,"x2":0.4668},{"y":0.7,"x":0.497,"x2":0.4668},{"y":0.8,"x":0.497,"x2":0.4668},{"y":0.9,"x":0.497,"x2":0.4668},{"y":1.1,"x":0.497,"x2":0.4668},{"y":1.2,"x":0.497,"x2":0.4668},{"y":1.3,"x":0.497,"x2":0.4668},{"y":1.4,"x":0.497,"x2":0.4668}
]}, "mark": {"type": "rule", "color": "#000000", "strokeWidth": 2}, "encoding": {"x2": {"field": "x2"}}}
],
"resolve": {"axis": {"x": "independent", "y": "independent"}}
}
